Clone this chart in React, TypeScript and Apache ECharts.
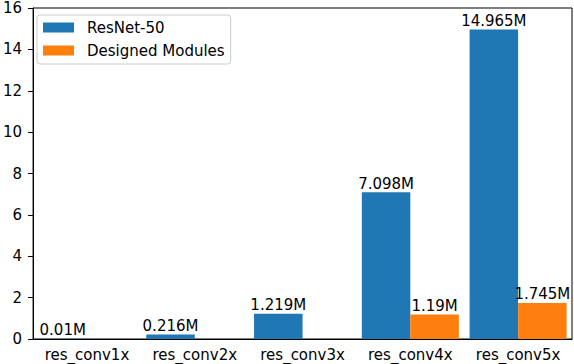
import React, { useEffect, useRef } from "react";
import * as echarts from "echarts";

const categories = ["res_conv1x", "res_conv2x", "res_conv3x", "res_conv4x", "res_conv5x"];
const resnetValues = [0.01, 0.216, 1.219, 7.098, 14.965];
const designedValues = [0, 0, 0, 1.19, 1.745];
const yTicks = { min: 0, max: 16, interval: 2 };

const FONT = "DejaVu Sans";
const FS = 15;

export default function App() {
  const ref = useRef<HTMLDivElement>(null);
  useEffect(() => {
    const chart = echarts.init(ref.current!, null, { renderer: "svg" });
    const labelFmt = (p: any) => (p.value > 0 ? `${p.value}M` : "");
    chart.setOption({
      animation: false,
      textStyle: { fontFamily: FONT },
      grid: {
        left: 30,
        right: 2,
        top: 8,
        bottom: 25,
        show: true,
        borderColor: "#000",
        borderWidth: 1,
        backgroundColor: "transparent",
      },
      legend: {
        orient: "vertical",
        left: 37,
        top: 15,
        data: ["ResNet-50", "Designed Modules"],
        icon: "rect",
        itemWidth: 31,
        itemHeight: 10,
        itemGap: 8,
        backgroundColor: "#fff",
        borderColor: "#ccc",
        borderWidth: 1,
        borderRadius: 3,
        padding: [5, 6, 6, 6],
        textStyle: { fontFamily: FONT, fontSize: FS, color: "#000", padding: [0, 0, 0, 8] },
      },
      xAxis: {
        type: "category",
        data: categories,
        axisLine: { lineStyle: { color: "#000", width: 1 } },
        axisTick: { alignWithLabel: true, length: 5, lineStyle: { color: "#000" } },
        axisLabel: {
          interval: 0,
          hideOverlap: false,
          fontFamily: FONT,
          fontSize: FS,
          color: "#000",
          margin: 8,
        },
      },
      yAxis: {
        type: "value",
        min: yTicks.min,
        max: yTicks.max,
        interval: yTicks.interval,
        axisLine: { show: true, lineStyle: { color: "#000", width: 1 } },
        axisTick: { show: true, length: 5, lineStyle: { color: "#000" } },
        axisLabel: { fontFamily: FONT, fontSize: FS, color: "#000", margin: 11 },
        splitLine: { show: false },
      },
      series: [
        {
          name: "ResNet-50",
          type: "bar",
          data: resnetValues,
          itemStyle: { color: "#1f77b4" },
          barWidth: "45%",
          barGap: "0%",
          label: {
            show: true,
            position: "top",
            distance: 1,
            formatter: labelFmt,
            fontFamily: FONT,
            fontSize: FS,
            color: "#000",
          },
        },
        {
          name: "Designed Modules",
          type: "bar",
          data: designedValues,
          itemStyle: { color: "#ff7f0e" },
          barWidth: "45%",
          barGap: "0%",
          label: {
            show: true,
            position: "top",
            distance: 1,
            formatter: labelFmt,
            fontFamily: FONT,
            fontSize: FS,
            color: "#000",
          },
        },
      ],
    });
    return () => chart.dispose();
  }, []);
  return (
    <div
      ref={ref}
      style={{ position: "fixed", left: 0, top: 0, width: 574, height: 364, background: "#fff" }}
    />
  );
}
